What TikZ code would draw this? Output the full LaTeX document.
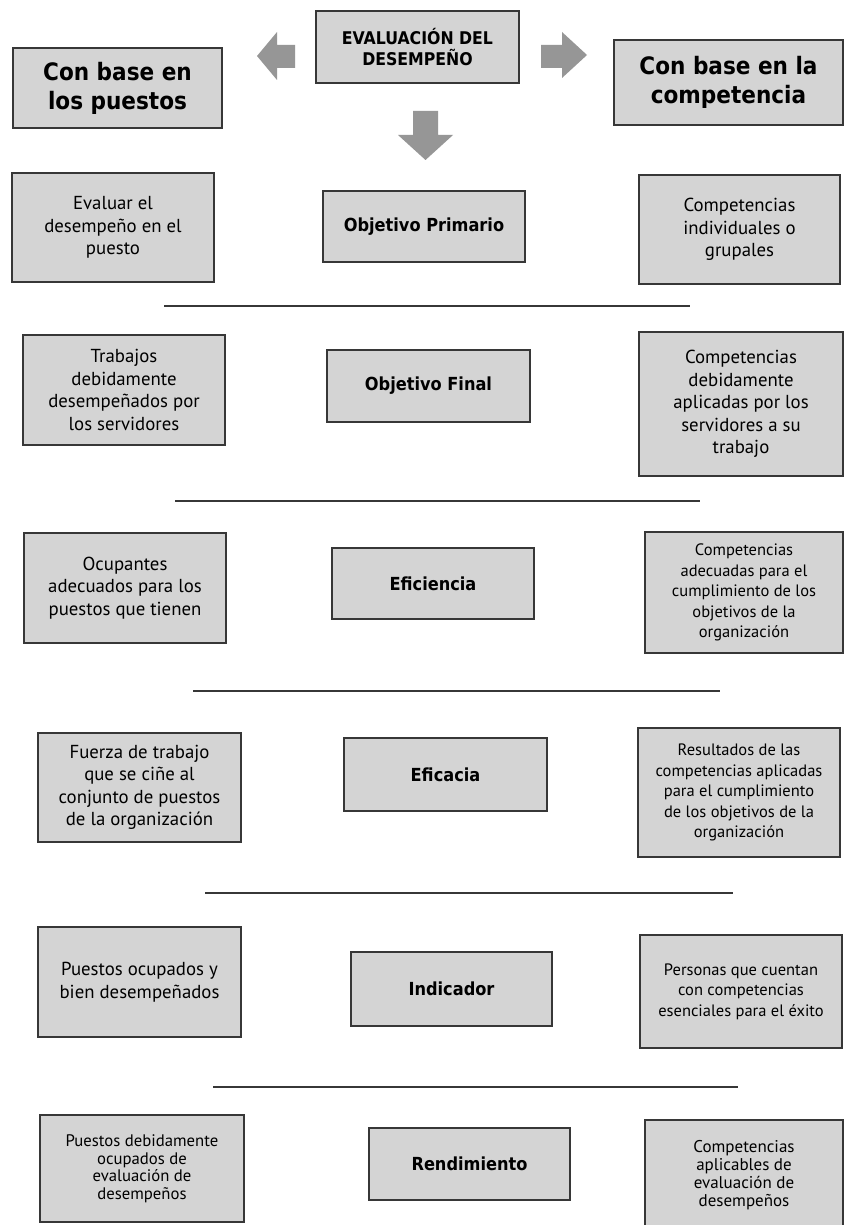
\documentclass[tikz,border=0pt]{standalone}
\usepackage{fontspec}
\newfontfamily\bodyf{PT Sans}
\newfontfamily\headf{DejaVu Sans Condensed}
\definecolor{boxfill}{RGB}{212,212,212}
\definecolor{boxline}{RGB}{55,55,55}
\definecolor{arrowgray}{RGB}{150,150,150}
\begin{document}
\begin{tikzpicture}[x=1pt,y=-1pt,
  box/.style={draw=boxline, line width=1.6pt, fill=boxfill, align=center, inner sep=2pt},
  bodytext/.style={font=\bodyf\fontsize{18.8}{22.5}\selectfont},
  smalltext/.style={font=\bodyf\fontsize{16.5}{20.5}\selectfont},
  labeltext/.style={font=\headf\bfseries\fontsize{18}{21}\selectfont},
  bigtext/.style={font=\headf\bfseries\fontsize{24}{29}\selectfont},
  sep/.style={draw=boxline, line width=2.4pt},
  blockarrow/.style={fill=arrowgray, draw=none}
]
\useasboundingbox (0,0) rectangle (844,1225);
\fill[white] (0,0) rectangle (844,1225);

% top
\node[box, minimum width=203, minimum height=72, font=\headf\bfseries\fontsize{17.5}{21}\selectfont] (eval) at (417.5,47) {EVALUACIÓN DEL\\DESEMPEÑO};
\node[box, minimum width=209, minimum height=80, bigtext] (puestos) at (117.5,88) {Con base en\\los puestos};
\node[box, minimum width=229, minimum height=85, bigtext] (compet) at (728.5,82.5) {Con base en la\\competencia};

% block arrows
\fill[blockarrow] (295,45) -- (277,45) -- (277,32) -- (257,56) -- (277,80) -- (277,68) -- (295,68) -- cycle;
\fill[blockarrow] (541,45) -- (562,45) -- (562,32) -- (587,55) -- (562,78) -- (562,68) -- (541,68) -- cycle;
\fill[blockarrow] (413,111) -- (438,111) -- (438,135) -- (453,135) -- (425.5,160) -- (398,135) -- (413,135) -- cycle;

% row 1
\node[box, minimum width=202, minimum height=109, bodytext] (l1) at (113,227.5) {Evaluar el\\desempeño en el\\puesto};
\node[box, minimum width=202, minimum height=71, labeltext] (c1) at (424,226.5) {Objetivo Primario};
\node[box, minimum width=201, minimum height=109, bodytext] (r1) at (739.5,229.5) {Competencias\\individuales o\\grupales};
\coordinate (s1a) at (164,306); \coordinate (s1b) at (690,306);
\draw[sep] (s1a) -- (s1b);

% row 2
\node[box, minimum width=202, minimum height=110, bodytext] (l2) at (124,390) {Trabajos\\debidamente\\desempeñados por\\los servidores};
\node[box, minimum width=203, minimum height=72, labeltext] (c2) at (428.5,386) {Objetivo Final};
\node[box, minimum width=204, minimum height=144, bodytext] (r2) at (741,404) {Competencias\\debidamente\\aplicadas por los\\servidores a su\\trabajo};
\coordinate (s2a) at (175,501); \coordinate (s2b) at (700,501);
\draw[sep] (s2a) -- (s2b);

% row 3
\node[box, minimum width=202, minimum height=110, bodytext] (l3) at (125,588) {Ocupantes\\adecuados para los\\puestos que tienen};
\node[box, minimum width=202, minimum height=71, labeltext] (c3) at (433,583.5) {Eficiencia};
\node[box, minimum width=198, minimum height=121, smalltext] (r3) at (744,592.5) {Competencias\\adecuadas para el\\cumplimiento de los\\objetivos de la\\organización};
\coordinate (s3a) at (193,691); \coordinate (s3b) at (720,691);
\draw[sep] (s3a) -- (s3b);

% row 4
\node[box, minimum width=203, minimum height=109, bodytext] (l4) at (139.5,787.5) {Fuerza de trabajo\\que se ciñe al\\conjunto de puestos\\de la organización};
\node[box, minimum width=203, minimum height=73, labeltext] (c4) at (445.5,774.5) {Eficacia};
\node[box, minimum width=202, minimum height=129, smalltext] (r4) at (739,792.5) {Resultados de las\\competencias aplicadas\\para el cumplimiento\\de los objetivos de la\\organización};
\coordinate (s4a) at (205,893); \coordinate (s4b) at (733,893);
\draw[sep] (s4a) -- (s4b);

% row 5
\node[box, minimum width=203, minimum height=110, bodytext] (l5) at (139.5,982) {Puestos ocupados y\\bien desempeñados};
\node[box, minimum width=201, minimum height=74, labeltext] (c5) at (451.5,989) {Indicador};
\node[box, minimum width=202, minimum height=113, smalltext] (r5) at (741,991.5) {Personas que cuentan\\con competencias\\esenciales para el éxito};
\coordinate (s5a) at (213,1087); \coordinate (s5b) at (738,1087);
\draw[sep] (s5a) -- (s5b);

% row 6
\node[box, minimum width=204, minimum height=107, font=\bodyf\fontsize{16.7}{17.5}\selectfont] (l6) at (142,1168.5) {Puestos debidamente\\ocupados de\\evaluación de\\desempeños};
\node[box, minimum width=201, minimum height=72, labeltext] (c6) at (469.5,1164) {Rendimiento};
\node[box, minimum width=198, minimum height=110, font=\bodyf\fontsize{17}{18}\selectfont] (r6) at (744,1175) {Competencias\\aplicables de\\evaluación de\\desempeños};
\end{tikzpicture}
\end{document}
